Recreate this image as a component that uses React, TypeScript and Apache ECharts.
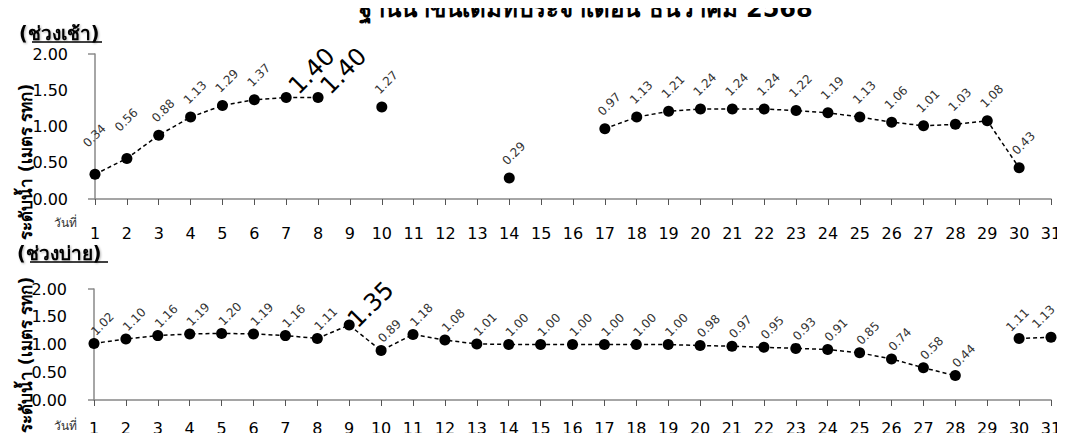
import React, { useEffect, useRef } from "react";
import * as echarts from "echarts";

const days = ["1","2","3","4","5","6","7","8","9","10","11","12","13","14","15","16","17","18","19","20","21","22","23","24","25","26","27","28","29","30","31"];
const morning = [0.34,0.56,0.88,1.13,1.29,1.37,1.40,1.40,null,1.27,null,null,null,0.29,null,null,0.97,1.13,1.21,1.24,1.24,1.24,1.22,1.19,1.13,1.06,1.01,1.03,1.08,0.43,null];
const afternoon = [1.02,1.10,1.16,1.19,1.20,1.19,1.16,1.11,1.35,0.89,1.18,1.08,1.01,1.00,1.00,1.00,1.00,1.00,1.00,0.98,0.97,0.95,0.93,0.91,0.85,0.74,0.58,0.44,null,1.11,1.13];
const morningBigDays = ["7","8"];
const afternoonBigDays = ["9"];

const titleText = "ฐานน้ำขึ้นเต็มที่ประจำเดือน ธันวาคม 2568";
const morningText = "(ช่วงเช้า)";
const afternoonText = "(ช่วงบ่าย)";
const yTitle = "ระดับน้ำ (เมตร รทก)";
const xTitle = "วันที่";

const FONT = "'DejaVu Sans', 'Noto Sans', sans-serif";

// label placement styles (offsets relative to the symbol box)
const labelStyle = {
  morning: { normal: [10, -19], big: [31, -21], overrides: { "1": [5, -33], "2": [5, -33] } as Record<string, number[]> },
  afternoon: { normal: [14, -14], big: [27, -15], overrides: { "30": [4, -13], "31": [-2, -15] } as Record<string, number[]> },
};

function buildData(vals: (number | null)[], bigDays: string[], st: any) {
  return vals.map((v, i) => {
    if (v === null) return null;
    const d = days[i];
    if (bigDays.includes(d)) {
      return { value: v, label: { fontSize: 24, position: st.big, color: "#000" } };
    }
    if (st.overrides[d]) {
      return { value: v, label: { position: st.overrides[d] } };
    }
    return v;
  });
}

function makeSeries(idx: number, vals: (number | null)[], bigDays: string[], st: any) {
  return {
    type: "line",
    xAxisIndex: idx,
    yAxisIndex: idx,
    data: buildData(vals, bigDays, st),
    connectNulls: false,
    showSymbol: true,
    showAllSymbol: true,
    symbol: "circle",
    symbolSize: 11,
    itemStyle: { color: "#000" },
    lineStyle: { color: "#000", width: 1.5, type: [4, 3] },
    label: {
      show: true,
      rotate: 45,
      position: st.normal,
      align: "center",
      verticalAlign: "middle",
      fontSize: 12,
      fontFamily: FONT,
      color: "#333",
      formatter: (p: any) => Number(p.value).toFixed(2),
    },
  };
}

function xAxisCfg(idx: number, margin: number) {
  return {
    type: "category",
    gridIndex: idx,
    data: days,
    boundaryGap: false,
    axisLine: { lineStyle: { color: "#888", width: 1.5 } },
    axisTick: { show: true, length: 6, lineStyle: { color: "#555" } },
    axisLabel: { interval: 0, fontSize: 16, color: "#000", fontFamily: FONT, margin },
    splitLine: { show: false },
  };
}

function yAxisCfg(idx: number) {
  return {
    type: "value",
    gridIndex: idx,
    min: 0,
    max: 2,
    interval: 0.5,
    axisLine: { show: true, lineStyle: { color: "#888", width: 1.5 } },
    axisTick: { show: false },
    splitLine: { show: false },
    axisLabel: {
      fontSize: 16,
      color: "#000",
      fontFamily: FONT,
      margin: 27,
      formatter: (v: number) => v.toFixed(2),
    },
  };
}

const shadow = { textShadowColor: "rgba(0,0,0,0.3)", textShadowOffsetX: 1, textShadowOffsetY: 1, textShadowBlur: 2 };

export default function App() {
  const ref = useRef<HTMLDivElement>(null);
  useEffect(() => {
    if (!ref.current) return;
    const chart = echarts.init(ref.current, undefined, { renderer: "svg" });
    chart.setOption({
      animation: false,
      backgroundColor: "#fff",
      grid: [
        { left: 95, right: 14, top: 54, height: 145 },
        { left: 94, right: 14, top: 289, height: 111 },
      ],
      xAxis: [xAxisCfg(0, 26), xAxisCfg(1, 20)],
      yAxis: [yAxisCfg(0), yAxisCfg(1)],
      series: [
        makeSeries(0, morning, morningBigDays, labelStyle.morning),
        makeSeries(1, afternoon, afternoonBigDays, labelStyle.afternoon),
      ],
      graphic: [
        {
          type: "text",
          x: 586,
          y: 9,
          style: { text: titleText, fontSize: 24, fontWeight: "bold", fontFamily: FONT, fill: "#000", align: "center", verticalAlign: "middle" },
        },
        {
          type: "text",
          x: 19,
          y: 33,
          style: { text: morningText, fontSize: 19, fontWeight: "bold", fontFamily: FONT, fill: "#000", align: "left", verticalAlign: "middle", ...shadow },
        },
        { type: "line", shape: { x1: 32, y1: 42, x2: 102, y2: 42 }, style: { stroke: "#000", lineWidth: 1.5 } },
        {
          type: "text",
          x: 17,
          y: 253,
          style: { text: afternoonText, fontSize: 19, fontWeight: "bold", fontFamily: FONT, fill: "#000", align: "left", verticalAlign: "middle", ...shadow },
        },
        { type: "line", shape: { x1: 30, y1: 262, x2: 108, y2: 262 }, style: { stroke: "#000", lineWidth: 1.5 } },
        {
          type: "text",
          x: 26,
          y: 162,
          rotation: Math.PI / 2,
          style: { text: yTitle, fontSize: 17, fontWeight: "bold", fontFamily: FONT, fill: "#000", align: "center", verticalAlign: "middle" },
        },
        {
          type: "text",
          x: 26,
          y: 355,
          rotation: Math.PI / 2,
          style: { text: yTitle, fontSize: 17, fontWeight: "bold", fontFamily: FONT, fill: "#000", align: "center", verticalAlign: "middle" },
        },
        {
          type: "text",
          x: 65,
          y: 223,
          style: { text: xTitle, fontSize: 12, fontFamily: FONT, fill: "#333", align: "center", verticalAlign: "middle" },
        },
        {
          type: "text",
          x: 65,
          y: 426,
          style: { text: xTitle, fontSize: 12, fontFamily: FONT, fill: "#333", align: "center", verticalAlign: "middle" },
        },
        { type: "line", shape: { x1: 88, y1: 54, x2: 95, y2: 54 }, style: { stroke: "#555", lineWidth: 1 } },
        { type: "line", shape: { x1: 88, y1: 199, x2: 95, y2: 199 }, style: { stroke: "#888", lineWidth: 1.5 } },
        { type: "line", shape: { x1: 88, y1: 289, x2: 94, y2: 289 }, style: { stroke: "#555", lineWidth: 1 } },
        { type: "line", shape: { x1: 88, y1: 400, x2: 94, y2: 400 }, style: { stroke: "#888", lineWidth: 1.5 } },
      ],
    });
    return () => chart.dispose();
  }, []);
  return <div ref={ref} style={{ width: 1065, height: 441, margin: -8 }} />;
}
